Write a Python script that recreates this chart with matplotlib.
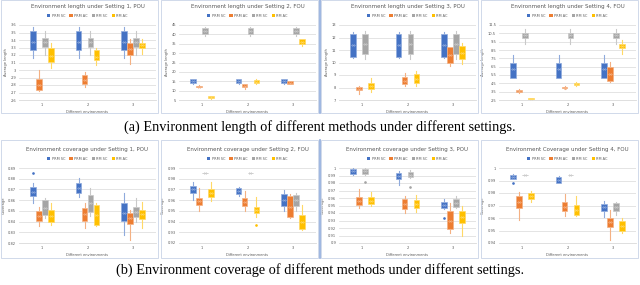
import matplotlib.pyplot as plt
from matplotlib.patches import Patch, Rectangle
from matplotlib.lines import Line2D

series = ["PRM SC", "PRM AC", "RM SC", "RM AC"]
colors = ["#4472C4", "#ED7D31", "#A5A5A5", "#FFC000"]
light = ["#8faadc", "#f4b183", "#c9c9c9", "#ffd966"]
envs = [1, 2, 3]

# box stats per environment: (whisker low, q1, median, q3, whisker high)
len_s1 = {
    "PRM SC": [(3.16, 3.27, 3.37, 3.52, 3.58), (3.16, 3.27, 3.37, 3.52, 3.58), (3.16, 3.27, 3.37, 3.52, 3.58)],
    "PRM AC": [(2.72, 2.73, 2.80, 2.88, 3.00), (2.77, 2.82, 2.87, 2.93, 2.98), (3.08, 3.20, 3.28, 3.36, 3.41)],
    "RM SC": [(3.20, 3.31, 3.37, 3.43, 3.52), (3.20, 3.31, 3.37, 3.43, 3.52), (3.20, 3.31, 3.37, 3.43, 3.52)],
    "RM AC": [(3.03, 3.11, 3.19, 3.29, 3.36), (3.07, 3.13, 3.18, 3.27, 3.29), (3.21, 3.29, 3.33, 3.36, 3.41)],
}
len_s2 = {
    "PRM SC": [(13.8, 14.1, 15.0, 16.0, 16.2), (13.8, 14.1, 15.0, 16.0, 16.2), (13.8, 14.1, 15.0, 16.0, 16.2)],
    "PRM AC": [(11.7, 11.9, 12.2, 12.6, 12.8), (11.0, 11.9, 12.6, 13.5, 13.6), (13.3, 13.7, 14.3, 15.0, 15.3)],
    "RM SC": [(39.2, 40.3, 41.8, 43.2, 44.1), (39.2, 40.3, 41.8, 43.2, 44.1), (39.2, 40.3, 41.8, 43.2, 44.1)],
    "RM AC": [(5.8, 6.0, 6.4, 6.9, 7.1), (13.8, 14.2, 14.8, 15.5, 16.0), (33.8, 35.1, 36.2, 37.4, 37.8)],
}
len_s3 = {
    "PRM SC": [(10.33, 10.41, 11.40, 12.25, 12.41), (10.33, 10.41, 11.40, 12.25, 12.41), (10.33, 10.41, 11.40, 12.25, 12.41)],
    "PRM AC": [(7.45, 7.80, 7.90, 8.01, 8.12), (8.12, 8.25, 8.50, 8.81, 9.13), (9.75, 9.93, 10.60, 11.21, 11.21)],
    "RM SC": [(10.25, 10.68, 11.50, 12.25, 12.52), (10.25, 10.68, 11.50, 12.25, 12.52), (10.25, 10.68, 11.50, 12.25, 12.52)],
    "RM AC": [(7.67, 7.85, 8.10, 8.39, 8.73), (8.12, 8.39, 8.70, 9.05, 9.32), (9.85, 10.25, 10.80, 11.32, 11.59)],
}
len_s4 = {
    "PRM SC": [(5.09, 5.09, 6.23, 7.00, 7.87), (5.09, 5.09, 6.23, 7.00, 7.87), (5.09, 5.09, 6.23, 7.00, 7.87)],
    "PRM AC": [(3.35, 3.41, 3.55, 3.72, 3.80), (3.85, 3.90, 4.00, 4.10, 4.15), (4.71, 4.79, 5.60, 6.42, 7.11)],
    "RM SC": [(9.20, 9.97, 10.30, 10.58, 11.07), (9.20, 9.97, 10.30, 10.58, 11.07), (9.20, 9.97, 10.30, 10.58, 11.07)],
    "RM AC": [(2.55, 2.58, 2.68, 2.77, 2.80), (4.15, 4.29, 4.42, 4.56, 4.70), (8.06, 8.71, 9.00, 9.28, 9.74)],
}
cov_s1 = {
    "PRM SC": [(0.8572, 0.8640, 0.8680, 0.8720, 0.8764), (0.8634, 0.8665, 0.8710, 0.8758, 0.8810), (0.8278, 0.8408, 0.8480, 0.8572, 0.8665)],
    "PRM AC": [(0.8360, 0.8410, 0.8450, 0.8500, 0.8540), (0.8340, 0.8408, 0.8470, 0.8530, 0.8570), (0.8225, 0.8380, 0.8430, 0.8479, 0.8510)],
    "RM SC": [(0.8430, 0.8460, 0.8530, 0.8600, 0.8620), (0.8448, 0.8485, 0.8570, 0.8650, 0.8710), (0.8400, 0.8442, 0.8490, 0.8535, 0.8620)],
    "RM AC": [(0.8370, 0.8400, 0.8450, 0.8510, 0.8570), (0.8360, 0.8370, 0.8460, 0.8556, 0.8570), (0.8340, 0.8426, 0.8470, 0.8510, 0.8587)],
}
cov_s2 = {
    "PRM SC": [(0.9604, 0.9666, 0.9700, 0.9735, 0.9766), (0.9635, 0.9657, 0.9685, 0.9713, 0.9719), (0.9495, 0.9548, 0.9600, 0.9657, 0.9698)],
    "PRM AC": [(0.9500, 0.9557, 0.9590, 0.9620, 0.9713), (0.9495, 0.9548, 0.9585, 0.9620, 0.9690), (0.9430, 0.9442, 0.9540, 0.9641, 0.9655)],
    "RM SC": [(0.9850, 0.9852, 0.9853, 0.9854, 0.9856), (0.9850, 0.9852, 0.9853, 0.9854, 0.9856), (0.9495, 0.9548, 0.9600, 0.9651, 0.9666)],
    "RM AC": [(0.9588, 0.9629, 0.9665, 0.9700, 0.9766), (0.9442, 0.9480, 0.9505, 0.9532, 0.9629), (0.9317, 0.9330, 0.9400, 0.9464, 0.9551)],
}
cov_s3 = {
    "PRM SC": [(0.9912, 0.9921, 0.9955, 0.9987, 0.9996), (0.9780, 0.9855, 0.9895, 0.9934, 0.9960), (0.9458, 0.9471, 0.9510, 0.9546, 0.9590)],
    "PRM AC": [(0.9471, 0.9507, 0.9560, 0.9617, 0.9722), (0.9405, 0.9450, 0.9520, 0.9590, 0.9626), (0.9132, 0.9185, 0.9300, 0.9427, 0.9537)],
    "RM SC": [(0.9912, 0.9921, 0.9955, 0.9987, 1.0000), (0.9868, 0.9877, 0.9910, 0.9943, 0.9978), (0.9472, 0.9485, 0.9540, 0.9590, 0.9626)],
    "RM AC": [(0.9493, 0.9515, 0.9565, 0.9617, 0.9678), (0.9414, 0.9463, 0.9520, 0.9580, 0.9634), (0.9088, 0.9273, 0.9350, 0.9427, 0.9493)],
}
cov_s4 = {
    "PRM SC": [(0.9910, 0.9916, 0.9930, 0.9944, 0.9950), (0.9880, 0.9883, 0.9905, 0.9930, 0.9938), (0.9609, 0.9659, 0.9685, 0.9712, 0.9735)],
    "PRM AC": [(0.9587, 0.9679, 0.9730, 0.9777, 0.9810), (0.9617, 0.9656, 0.9690, 0.9726, 0.9790), (0.9427, 0.9525, 0.9565, 0.9603, 0.9665)],
    "RM SC": [(0.9942, 0.9943, 0.9944, 0.9945, 0.9946), (0.9942, 0.9943, 0.9944, 0.9945, 0.9946), (0.9628, 0.9659, 0.9690, 0.9720, 0.9726)],
    "RM AC": [(0.9726, 0.9749, 0.9775, 0.9799, 0.9818), (0.9615, 0.9628, 0.9665, 0.9707, 0.9777), (0.9478, 0.9497, 0.9535, 0.9573, 0.9603)],
}

# outliers: (series index, env index) -> values
out_len = [{}, {}, {}, {}]
out_cov = [
    {(0, 0): [0.885]},
    {(3, 1): [0.937]},
    {(2, 0): [0.981], (2, 1): [0.9744], (0, 2): [0.934]},
    {(0, 0): [0.988]},
]

titles_len = ["Environment length under Setting 1, POU", "Environment length under Setting 2, FOU",
              "Environment length under Setting 3, POU", "Environment length under Setting 4, FOU"]
titles_cov = ["Environment coverage under Setting 1, POU", "Environment coverage under Setting 2, FOU",
              "Environment coverage under Setting 3, POU", "Environment Coverage under Setting 4, FOU"]

yticks_len = [
    [2.6, 2.7, 2.8, 2.9, 3.0, 3.1, 3.2, 3.3, 3.4, 3.5, 3.6],
    [5, 10, 15, 20, 25, 30, 35, 40, 45],
    [7, 8, 9, 10, 11, 12, 13],
    [2.5, 3.5, 4.5, 5.5, 6.5, 7.5, 8.5, 9.5, 10.5, 11.5],
]
yticks_cov = [
    [0.82, 0.83, 0.84, 0.85, 0.86, 0.87, 0.88, 0.89],
    [0.92, 0.93, 0.94, 0.95, 0.96, 0.97, 0.98, 0.99],
    [0.90, 0.91, 0.92, 0.93, 0.94, 0.95, 0.96, 0.97, 0.98, 0.99, 1.00],
    [0.94, 0.95, 0.96, 0.97, 0.98, 0.99, 1.00],
]
ylabels = ["Average length", "Coverage"]

W, H = 640, 285
fig = plt.figure(figsize=(W / 100, H / 100), dpi=100)

offsets = [-0.195, -0.065, 0.065, 0.195]
txt = "#595959"


def draw_panel(ax, data, outliers, title, yticks, ylabel):
    for i, name in enumerate(series):
        stats = []
        for j, (lo, q1, med, q3, hi) in enumerate(data[name]):
            stats.append({"whislo": lo, "q1": q1, "med": med, "q3": q3, "whishi": hi,
                          "mean": med, "fliers": outliers.get((i, j), [])})
        c = colors[i]
        ax.bxp(stats, positions=[e + offsets[i] for e in envs], widths=0.125,
               patch_artist=True, showmeans=True, showcaps=False,
               boxprops=dict(facecolor=c, edgecolor=light[i], linewidth=0.5),
               whiskerprops=dict(color=light[i], linewidth=0.8),
               medianprops=dict(color=light[i], linewidth=0.4),
               meanprops=dict(marker="x", markeredgecolor=light[i], markersize=1.8, markeredgewidth=0.4),
               flierprops=dict(marker="o", markerfacecolor=c, markeredgecolor=c, markersize=0.9))
    ax.set_xlim(0.5, 3.5)
    ax.set_ylim(yticks[0], yticks[-1])
    ax.set_yticks(yticks)
    ax.set_yticklabels([f"{t:g}" for t in yticks])
    ax.set_xticks(envs)
    ax.set_xticklabels([str(e) for e in envs])
    ax.tick_params(length=0, labelsize=2.6, labelcolor=txt, pad=2)
    ax.grid(axis="y", color="#d9d9d9", linewidth=0.5)
    ax.set_axisbelow(True)
    for s in ["top", "right", "left"]:
        ax.spines[s].set_visible(False)
    ax.spines["bottom"].set_color("#d9d9d9")
    ax.spines["bottom"].set_linewidth(0.6)
    ax.set_xlabel("Different environments", fontsize=2.6, color=txt, labelpad=2.5)
    ax.set_ylabel(ylabel, fontsize=2.6, color=txt, labelpad=2)
    ax.text(0.5, 1.25, title, transform=ax.transAxes, ha="center", va="center",
            fontsize=4.0, color=txt)
    handles = [Patch(facecolor=c) for c in colors]
    ax.legend(handles, series, loc="center", bbox_to_anchor=(0.5, 1.12), ncol=4,
              frameon=False, fontsize=2.5, handlelength=0.9, handleheight=0.9,
              handletextpad=0.4, columnspacing=1.2, labelcolor=txt)


rows = [
    (25, 100, 0, 113, [len_s1, len_s2, len_s3, len_s4], out_len, titles_len, yticks_len, ylabels[0]),
    (168, 243, 140, 258, [cov_s1, cov_s2, cov_s3, cov_s4], out_cov, titles_cov, yticks_cov, ylabels[1]),
]

for top, bot, ftop, fbot, datas, outs, titles, yts, ylab in rows:
    for c in range(4):
        # panel frame
        fig.add_artist(Rectangle(((160 * c + 1) / W, 1 - fbot / H), 157 / W, (fbot - ftop) / H,
                                 transform=fig.transFigure, fill=False,
                                 edgecolor="#c9d3e6", linewidth=0.6))
        ax = fig.add_axes([(160 * c + 19) / W, 1 - bot / H, 137 / W, (bot - top) / H])
        draw_panel(ax, datas[c], outs[c], titles[c], yts[c], ylab)
    fig.add_artist(Line2D([320 / W, 320 / W], [1 - fbot / H, 1 - ftop / H],
                          transform=fig.transFigure, color="#8eaadb", linewidth=1.2))

fig.text(0.5, 1 - 127 / H, "(a) Environment length of different methods under different settings.",
         ha="center", va="center", fontsize=10.3, family="Liberation Serif")
fig.text(0.5, 1 - 270 / H, "(b) Environment coverage of different methods under different settings.",
         ha="center", va="center", fontsize=10.3, family="Liberation Serif")

fig.savefig("out.png", dpi=100)
